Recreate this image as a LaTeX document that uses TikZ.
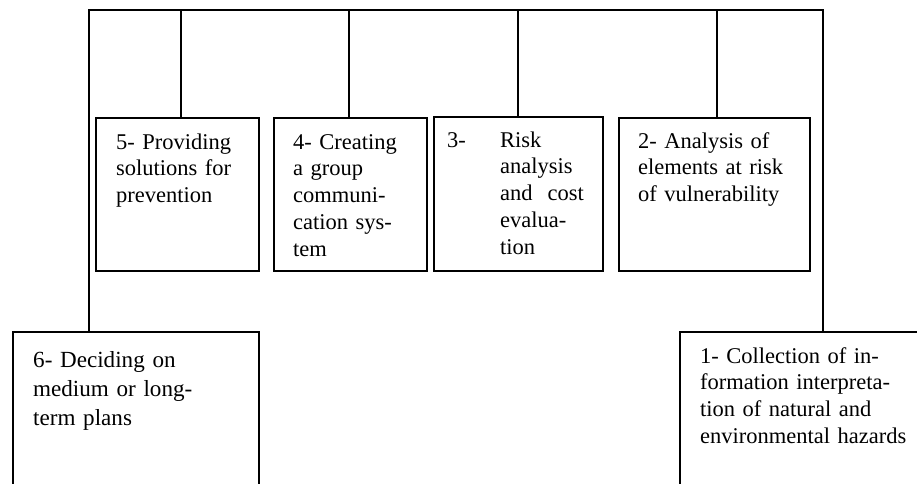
\documentclass[tikz,border=0pt]{standalone}
\usepackage{fontspec}
\setmainfont{Liberation Serif}
\usetikzlibrary{calc}
\begin{document}
\begin{tikzpicture}[x=1pt,y=-1pt,
  box/.style={draw,line width=1.5pt,rectangle,inner sep=0pt,anchor=north west},
  txt/.style={anchor=base west,inner sep=0pt,align=left,text width=260pt,
    font=\fontsize{22.5}{26.8}\selectfont},
  bigtxt/.style={txt,font=\fontsize{23.1}{29}\selectfont},
  link/.style={line width=1.5pt}]
\useasboundingbox (0,0) rectangle (917,483);
\clip (0,0) rectangle (917,483);
% boxes
\node[box,minimum width=163pt,minimum height=153pt] (b5) at (95,117) {};
\node[box,minimum width=153pt,minimum height=153pt] (b4) at (273,117) {};
\node[box,minimum width=169pt,minimum height=154pt] (b3) at (433,116) {};
\node[box,minimum width=191pt,minimum height=153pt] (b2) at (618,117) {};
\node[box,minimum width=246pt,minimum height=200pt] (b6) at (12,331) {};
\node[box,minimum width=300pt,minimum height=200pt] (b1) at (679,331) {};
% texts
\node[txt] (t5) at ($(b5.north west)+(21,32)$) {5- Providing\\solutions for\\prevention};
\node[txt] (t4) at ($(b4.north west)+(20,32)$) {4- Creating\\a group\\communi-\\cation sys-\\tem};
\node[txt] (t3) at ($(b3.north west)+(14,31)$) {\makebox[53pt][l]{3-}Risk\\\hspace*{53pt}analysis\\\hspace*{53pt}and\ \ cost\\\hspace*{53pt}evalua-\\\hspace*{53pt}tion};
\node[txt] (t2) at ($(b2.north west)+(20,31)$) {2- Analysis of\\elements at risk\\of vulnerability};
\node[bigtxt] (t6) at ($(b6.north west)+(21,36)$) {6- Deciding on\\medium or long-\\term plans};
\node[txt] (t1) at ($(b1.north west)+(21,32)$) {1- Collection of in-\\formation interpreta-\\tion of natural and\\environmental hazards};
% connectors
\coordinate (tl) at (89,10);
\coordinate (tr) at (823,10);
\coordinate (c5) at (181,10);
\coordinate (c4) at (349,10);
\coordinate (c3) at (518,10);
\coordinate (c2) at (717,10);
\draw[link] (b6.north -| tl) -- (tl) -- (tr) -- (b1.north -| tr);
\draw[link] (b5.north -| c5) -- (c5);
\draw[link] (b4.north -| c4) -- (c4);
\draw[link] (b3.north -| c3) -- (c3);
\draw[link] (b2.north -| c2) -- (c2);
\end{tikzpicture}
\end{document}
